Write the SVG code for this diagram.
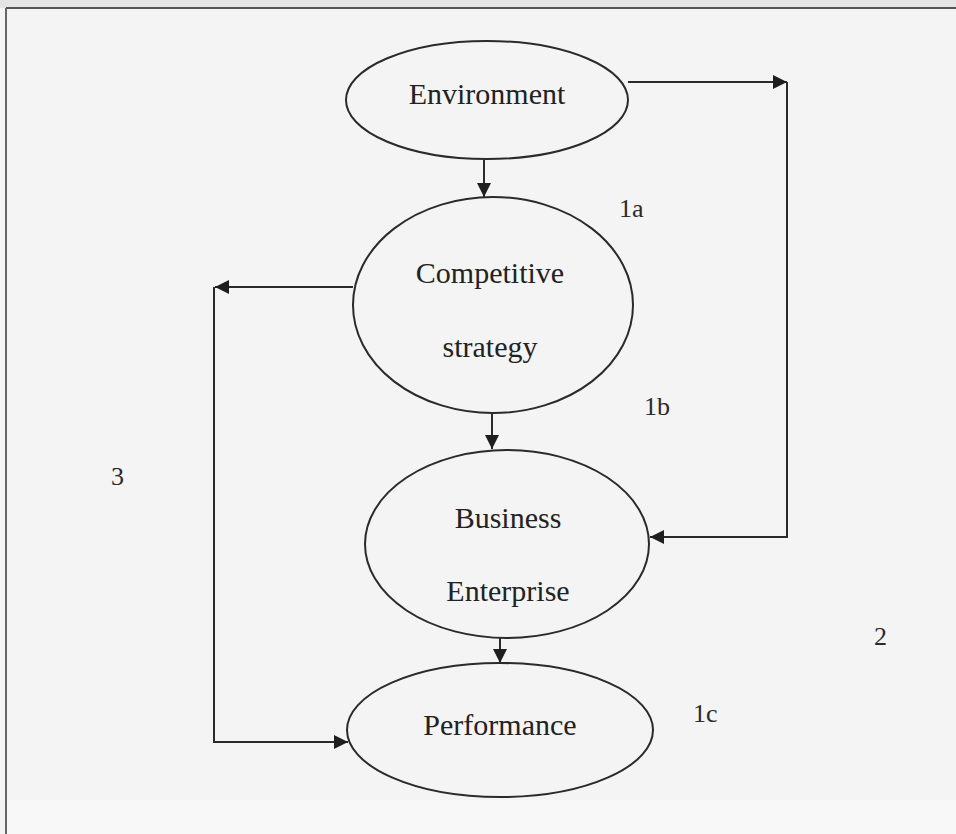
<svg xmlns="http://www.w3.org/2000/svg" width="956" height="834" viewBox="0 0 956 834">
<style>
.node{fill:none;stroke:#2a2a2a;stroke-width:2}
.lbl{font-family:"Liberation Serif","Times New Roman",serif;font-size:30px;fill:#222;text-anchor:middle}
.num{font-family:"Liberation Serif","Times New Roman",serif;font-size:26px;fill:#2a2a2a}
.conn{fill:none;stroke:#2a2a2a;stroke-width:2}
</style>
<defs>
<marker id="ah" markerUnits="userSpaceOnUse" markerWidth="16" markerHeight="14" refX="14" refY="7" orient="auto">
<path d="M0,0 L14,7 L0,14 z" fill="#1e1e1e"/>
</marker>
</defs>
<rect x="0" y="0" width="956" height="834" fill="#f4f4f4"/>
<rect x="0" y="0" width="956" height="8" fill="#e4e4e4"/>
<rect x="7" y="800" width="949" height="34" fill="#f8f8f8"/>
<line x1="6" y1="8" x2="956" y2="8" stroke="#555" stroke-width="2"/>
<line x1="6" y1="8" x2="6" y2="834" stroke="#666" stroke-width="2"/>
<g id="connectors">
<path class="conn" d="M484,160 V197" marker-end="url(#ah)"/>
<path class="conn" d="M628,82 H787" marker-end="url(#ah)"/>
<path class="conn" d="M787,82 V537 H650" marker-end="url(#ah)"/>
<path class="conn" d="M353,287 H215" marker-end="url(#ah)"/>
<path class="conn" d="M214,287 V742 H348" marker-end="url(#ah)"/>
<path class="conn" d="M492,414 V449" marker-end="url(#ah)"/>
<path class="conn" d="M500,638 V663" marker-end="url(#ah)"/>
</g>
<g id="environment">
<ellipse class="node" cx="487" cy="100" rx="141" ry="59"/>
<text class="lbl" x="487" y="104">Environment</text>
</g>
<g id="competitive-strategy">
<ellipse class="node" cx="493" cy="305" rx="140" ry="108"/>
<text class="lbl" x="490" y="283">Competitive</text>
<text class="lbl" x="490" y="357">strategy</text>
</g>
<g id="business-enterprise">
<ellipse class="node" cx="507" cy="544" rx="142" ry="94"/>
<text class="lbl" x="508" y="528">Business</text>
<text class="lbl" x="508" y="601">Enterprise</text>
</g>
<g id="performance">
<ellipse class="node" cx="500" cy="730" rx="153" ry="67"/>
<text class="lbl" x="500" y="735">Performance</text>
</g>
<g id="labels">
<text class="num" x="619" y="217">1a</text>
<text class="num" x="644" y="415">1b</text>
<text class="num" x="111" y="485">3</text>
<text class="num" x="874" y="645">2</text>
<text class="num" x="693" y="722">1c</text>
</g>
</svg>
